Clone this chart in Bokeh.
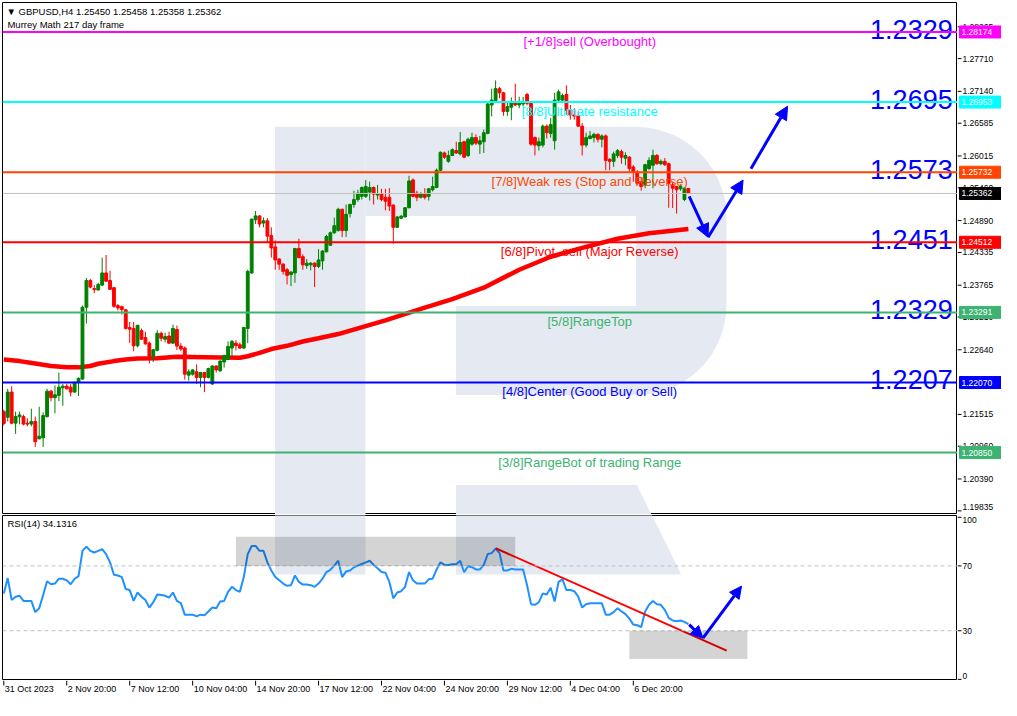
import math
from bokeh.plotting import figure
from bokeh.models import (ColumnDataSource, Span, Label, Arrow, NormalHead,
                          Range1d, BoxAnnotation)
from bokeh.layouts import column, row
from bokeh.embed import file_html
from bokeh.resources import INLINE
from bokeh.core.properties import value

# ---------------- data (GBPUSD H4) ----------------
open_ = [1.21563, 1.21465, 1.21903, 1.21363, 1.21472, 1.21477, 1.21363, 1.21346, 1.21392, 1.21090,
         1.21107, 1.21477, 1.21920, 1.21806, 1.21847, 1.21977, 1.22006, 1.21989, 1.21903, 1.22074,
         1.22130, 1.23381, 1.23846, 1.23705, 1.23681, 1.23766, 1.23978, 1.23846, 1.23722, 1.23408,
         1.23391, 1.23335, 1.23028, 1.23011, 1.22710, 1.22972, 1.22853, 1.22756, 1.22517, 1.22631,
         1.22926, 1.22824, 1.22880, 1.22756, 1.22994, 1.22705, 1.22670, 1.22198, 1.22215, 1.22256,
         1.22159, 1.22244, 1.22159, 1.22045, 1.22358, 1.22273, 1.22427, 1.22471, 1.22670, 1.22756,
         1.22727, 1.22670, 1.23011, 1.23978, 1.24903, 1.24971, 1.24847, 1.24886, 1.24630, 1.24431,
         1.24221, 1.24131, 1.24034, 1.23949, 1.23978, 1.24404, 1.24261, 1.24107, 1.24119, 1.24148,
         1.24090, 1.24187, 1.24346, 1.24460, 1.24677, 1.24716, 1.25086, 1.24716, 1.25011, 1.25171,
         1.25256, 1.25312, 1.25312, 1.25386, 1.25466, 1.25334, 1.25351, 1.25295, 1.25295, 1.25159,
         1.24772, 1.24932, 1.24954, 1.25113, 1.25597, 1.25368, 1.25295, 1.25351, 1.25312, 1.25426,
         1.25466, 1.25767, 1.26067, 1.25921, 1.26023, 1.26108, 1.26050, 1.26262, 1.26023, 1.26221,
         1.26335, 1.26221, 1.26262, 1.26408, 1.26902, 1.26977, 1.27187, 1.27114, 1.26790, 1.26863,
         1.26943, 1.26902, 1.26919, 1.27085, 1.26931, 1.26335, 1.26193, 1.26204, 1.26534, 1.26408,
         1.26279, 1.26988, 1.26988, 1.27085, 1.26812, 1.26727, 1.26710, 1.26534, 1.26204, 1.26318,
         1.26335, 1.26391, 1.26306, 1.26364, 1.25955, 1.25921, 1.26023, 1.26091, 1.25977, 1.25994,
         1.25824, 1.25738, 1.25568, 1.25512, 1.25795, 1.25853, 1.26023, 1.25880, 1.25921, 1.25880,
         1.25512, 1.25483, 1.25443, 1.25256, 1.25450]
high_ = [1.21597, 1.21960, 1.22006, 1.21563, 1.21563, 1.21511, 1.21448, 1.21614, 1.21477, 1.21648,
         1.21551, 1.21960, 1.21943, 1.22018, 1.22244, 1.22045, 1.22045, 1.22045, 1.22086, 1.22159,
         1.23408, 1.23892, 1.23875, 1.23766, 1.23807, 1.24244, 1.24290, 1.24017, 1.23732, 1.23437,
         1.23408, 1.23352, 1.23125, 1.23125, 1.23067, 1.23011, 1.22955, 1.22785, 1.22653, 1.22982,
         1.22955, 1.22938, 1.22955, 1.23079, 1.23062, 1.22756, 1.22699, 1.22300, 1.22300, 1.22386,
         1.22256, 1.22244, 1.22330, 1.22369, 1.22369, 1.22454, 1.22556, 1.22785, 1.22812, 1.22812,
         1.22768, 1.23040, 1.24034, 1.24925, 1.25057, 1.24983, 1.24942, 1.24932, 1.24772, 1.24545,
         1.24233, 1.24148, 1.24063, 1.24005, 1.24414, 1.24574, 1.24302, 1.24221, 1.24165, 1.24165,
         1.24392, 1.24375, 1.24642, 1.24699, 1.24942, 1.25113, 1.25096, 1.25171, 1.25181, 1.25409,
         1.25426, 1.25483, 1.25597, 1.25568, 1.25483, 1.25512, 1.25443, 1.25443, 1.25454, 1.25171,
         1.24971, 1.24988, 1.25125, 1.25670, 1.25624, 1.25409, 1.25386, 1.25454, 1.25454, 1.25653,
         1.25795, 1.26091, 1.26091, 1.26108, 1.26147, 1.26262, 1.26432, 1.26279, 1.26335, 1.26420,
         1.26391, 1.26364, 1.26476, 1.26943, 1.27187, 1.27329, 1.27216, 1.27131, 1.26943, 1.27034,
         1.27272, 1.27046, 1.27046, 1.27114, 1.26948, 1.26352, 1.26335, 1.26562, 1.26562, 1.26676,
         1.27114, 1.27170, 1.27102, 1.27243, 1.26902, 1.26846, 1.26790, 1.26591, 1.26420, 1.26449,
         1.26420, 1.26408, 1.26391, 1.26391, 1.25977, 1.26091, 1.26135, 1.26125, 1.26079, 1.26011,
         1.25853, 1.25767, 1.25636, 1.25880, 1.25994, 1.26125, 1.26050, 1.25955, 1.25977, 1.25897,
         1.25568, 1.25483, 1.25522, 1.25466, 1.25458]
low_ = [1.21324, 1.21392, 1.21341, 1.21176, 1.21341, 1.21324, 1.21307, 1.21307, 1.20949, 1.21080,
        1.20949, 1.21460, 1.21745, 1.21534, 1.21745, 1.21665, 1.21949, 1.21830, 1.21892, 1.21835,
        1.22120, 1.23097, 1.23710, 1.23625, 1.23676, 1.23749, 1.23824, 1.23681, 1.23369, 1.23323,
        1.23255, 1.22994, 1.22756, 1.22614, 1.22682, 1.22812, 1.22727, 1.22403, 1.22427, 1.22614,
        1.22785, 1.22768, 1.22744, 1.22744, 1.22636, 1.22619, 1.22120, 1.22103, 1.22188, 1.22045,
        1.21989, 1.21903, 1.22142, 1.22028, 1.22244, 1.22256, 1.22330, 1.22461, 1.22529, 1.22631,
        1.22653, 1.22653, 1.22756, 1.23961, 1.24830, 1.24772, 1.24772, 1.24516, 1.24244, 1.24034,
        1.24034, 1.23949, 1.23778, 1.23749, 1.23807, 1.24233, 1.24034, 1.24051, 1.24022, 1.23732,
        1.24063, 1.24034, 1.24336, 1.24448, 1.24659, 1.24699, 1.24602, 1.24602, 1.24942, 1.25113,
        1.25215, 1.25256, 1.25283, 1.25239, 1.25171, 1.25256, 1.25227, 1.25068, 1.25057, 1.24489,
        1.24762, 1.24915, 1.24942, 1.25103, 1.25295, 1.25227, 1.25273, 1.25256, 1.25239, 1.25397,
        1.25454, 1.25750, 1.25965, 1.25897, 1.26011, 1.26050, 1.26023, 1.25977, 1.25994, 1.26193,
        1.26204, 1.26050, 1.26067, 1.26391, 1.26705, 1.26960, 1.27017, 1.26715, 1.26715, 1.26637,
        1.26885, 1.26846, 1.26875, 1.26897, 1.26193, 1.26023, 1.26108, 1.26164, 1.26318, 1.26335,
        1.26125, 1.26960, 1.26966, 1.26727, 1.26647, 1.26647, 1.26522, 1.26023, 1.26164, 1.26306,
        1.26250, 1.26250, 1.26164, 1.25767, 1.25767, 1.25824, 1.25977, 1.25880, 1.25853, 1.25738,
        1.25568, 1.25512, 1.25409, 1.25454, 1.25767, 1.25454, 1.25863, 1.25853, 1.25841, 1.25113,
        1.25108, 1.25011, 1.25409, 1.25227, 1.25358]
close_ = [1.21358, 1.21903, 1.21363, 1.21477, 1.21506, 1.21346, 1.21346, 1.21392, 1.21039, 1.21136,
          1.21494, 1.21920, 1.21806, 1.21857, 1.21989, 1.22006, 1.21960, 1.21903, 1.22074, 1.22142,
          1.23381, 1.23846, 1.23732, 1.23688, 1.23778, 1.23978, 1.23835, 1.23693, 1.23398, 1.23369,
          1.23340, 1.23011, 1.22999, 1.22710, 1.23067, 1.22824, 1.22744, 1.22500, 1.22641, 1.22926,
          1.22841, 1.22870, 1.22756, 1.23011, 1.22705, 1.22653, 1.22215, 1.22256, 1.22290, 1.22159,
          1.22244, 1.22159, 1.22312, 1.22358, 1.22290, 1.22444, 1.22539, 1.22699, 1.22785, 1.22710,
          1.22670, 1.23028, 1.24005, 1.24915, 1.24971, 1.24830, 1.24886, 1.24619, 1.24414, 1.24204,
          1.24131, 1.24005, 1.23937, 1.23995, 1.24404, 1.24244, 1.24119, 1.24148, 1.24148, 1.24090,
          1.24204, 1.24358, 1.24613, 1.24677, 1.24801, 1.25086, 1.24716, 1.25000, 1.25171, 1.25256,
          1.25368, 1.25466, 1.25483, 1.25466, 1.25351, 1.25351, 1.25256, 1.25227, 1.25142, 1.24772,
          1.24954, 1.24966, 1.25113, 1.25580, 1.25312, 1.25295, 1.25351, 1.25295, 1.25443, 1.25483,
          1.25767, 1.26079, 1.25994, 1.26023, 1.26125, 1.26067, 1.26250, 1.25994, 1.26306, 1.26335,
          1.26238, 1.26279, 1.26420, 1.26919, 1.26988, 1.27187, 1.27114, 1.26790, 1.26875, 1.26943,
          1.26902, 1.26943, 1.26943, 1.26931, 1.26221, 1.26204, 1.26262, 1.26534, 1.26420, 1.26562,
          1.26988, 1.27131, 1.27068, 1.26812, 1.26727, 1.26710, 1.26534, 1.26204, 1.26335, 1.26364,
          1.26391, 1.26306, 1.26364, 1.25938, 1.25921, 1.26050, 1.26108, 1.25994, 1.26023, 1.25795,
          1.25738, 1.25539, 1.25483, 1.25863, 1.25938, 1.26023, 1.25880, 1.25921, 1.25863, 1.25539,
          1.25454, 1.25426, 1.25483, 1.25454, 1.25362]
rsi14 = [53.0, 62.5, 49.0, 51.0, 51.6, 48.4, 48.4, 48.4, 41.5, 43.9,
         52.0, 60.5, 58.7, 59.1, 62.1, 62.1, 61.1, 58.7, 62.1, 63.7,
         79.3, 81.9, 79.3, 78.3, 79.3, 80.3, 77.3, 72.2, 64.5, 64.1,
         63.1, 55.7, 55.1, 48.4, 53.6, 51.0, 48.9, 44.3, 47.6, 52.4,
         52.0, 51.6, 50.4, 53.6, 48.4, 47.0, 39.9, 39.9, 39.9, 38.9,
         39.9, 39.5, 41.9, 44.3, 43.9, 48.0, 48.4, 54.0, 57.1, 55.1,
         54.0, 63.1, 77.3, 82.3, 82.3, 79.3, 79.3, 72.2, 67.2, 63.1,
         61.1, 59.1, 57.7, 58.1, 64.1, 60.1, 58.5, 58.5, 58.1, 57.1,
         59.1, 62.1, 66.2, 67.6, 70.2, 73.2, 63.1, 66.6, 67.2, 69.2,
         70.2, 71.2, 72.2, 73.2, 70.6, 68.6, 66.2, 65.8, 60.1, 50.0,
         53.6, 54.4, 57.1, 66.2, 61.1, 59.1, 59.1, 59.1, 61.7, 62.1,
         67.8, 72.2, 70.6, 70.6, 71.0, 71.0, 73.2, 66.2, 69.8, 69.2,
         67.8, 67.8, 70.6, 77.3, 77.9, 80.7, 77.9, 67.2, 67.2, 68.2,
         67.8, 67.8, 67.8, 58.0, 46.4, 46.0, 47.6, 53.0, 52.4, 56.5,
         48.0, 60.1, 61.7, 55.1, 55.1, 54.4, 51.0, 44.3, 46.4, 47.0,
         47.0, 47.0, 47.0, 39.9, 39.9, 41.5, 43.9, 41.9, 40.3, 37.5,
         33.8, 33.4, 32.2, 41.9, 46.0, 48.4, 46.4, 46.0, 42.9, 37.9,
         36.3, 35.9, 36.3, 35.5, 34.1316]
ma_bar = [0, 4, 8, 12, 16, 19, 22, 24, 28, 31, 34, 39, 44, 51, 60, 62, 65, 68, 72, 76,
          80, 85, 97, 106, 114, 122, 131, 139, 147, 156, 164, 174]
ma_val = [1.22471, 1.22443, 1.22402, 1.22358, 1.22334, 1.22334, 1.22358, 1.22397, 1.22443, 1.22471,
          1.22488, 1.22494, 1.22517, 1.22511, 1.22500, 1.22528, 1.22585, 1.22653, 1.22709, 1.22784,
          1.22841, 1.22914, 1.23153, 1.23352, 1.23522, 1.23722, 1.24034, 1.24260, 1.24414, 1.24574,
          1.24669, 1.24745]

murrey_levels = [1.28174, 1.26953, 1.25732, 1.24512, 1.23291, 1.22070, 1.20850]
murrey_colors = ["#ff00ff", "#00ffff", "#ff4500", "#ff0000", "#3cb371", "#0000ff", "#3cb371"]
murrey_texts = ["[+1/8]sell (Overbought)", "[8/8]Ultimate resistance",
                "[7/8]Weak res (Stop and Reverse)", "[6/8]Pivot, sell (Major Reverse)",
                "[5/8]RangeTop", "[4/8]Center (Good Buy or Sell)",
                "[3/8]RangeBot of trading Range"]
murrey_big = ["1.2329", "1.2695", "1.2573", "1.2451", "1.2329", "1.2207", ""]
last_price = 1.25362

price_ticks = [1.19835, 1.20390, 1.20960, 1.21515, 1.22640, 1.23210, 1.23765, 1.24335,
               1.24890, 1.25460, 1.26015, 1.26585, 1.27140, 1.27710, 1.28265]
time_tick_bars = [0, 16, 32, 48, 64, 80, 96, 112, 128, 144, 160]
time_tick_labels = ["31 Oct 2023", "2 Nov 20:00", "7 Nov 12:00", "10 Nov 04:00", "14 Nov 20:00",
                    "17 Nov 12:00", "22 Nov 04:00", "24 Nov 20:00", "29 Nov 12:00",
                    "4 Dec 04:00", "6 Dec 20:00"]
rsi_ticks = [0, 30, 70, 100]
rsi_levels = [30, 70]

# drawn analysis objects
rsi_zone_left = [59, 159]
rsi_zone_right = [130, 189]
rsi_zone_bottom = [70, 12.6]
rsi_zone_top = [88, 30]
rsi_trend_bar = [125, 183.75]
rsi_trend_val = [80.9, 17.7]
fc_bar = [174.2, 179.0, 187.9]
fc_price = [1.25312, 1.24601, 1.25596]
fc2_bar = [189.9, 199.2]
fc2_price = [1.25794, 1.26880]
rsi_fc_bar = [174.2, 177.7, 187.5]
rsi_fc_val = [33.8, 25.4, 57.5]

# ---------------- layout helpers (reference pixel -> data) ----------------
FONT = "Liberation Sans"
X0, X1 = -0.33, 242.4
P0, P1 = 1.19772, 1.28687
R0, R1 = -0.7, 101.1
FW = 955          # width of the chart frames
SW = 44           # width of the price-scale strip
MAIN_H, RSI_H, TIME_H = 512, 165, 20


def px_bar(x):
    return (x - 3.3) / 4.0


def px_price(y):
    return 1.287207 - y / 5867.0


def px_rsi(y):
    return 70 - (y - 578.3) / 1.65


def arc(cx, cy, rad, a0, a1, n=14):
    pts = []
    for k in range(n + 1):
        a = math.radians(a0 + (a1 - a0) * k / n)
        pts.append((cx + rad * math.cos(a), cy - rad * math.sin(a)))
    return pts


wm_shapes = [
    [(279, 129), (371, 129), (371, 587), (279, 587)],
    [(371, 129)] + arc(646, 221, 92, 90, 0) + arc(646, 311, 92, 0, -90)
    + [(463, 403), (463, 312), (646, 312), (646, 220), (371, 220)],
    [(463, 495), (647, 495), (692, 587), (463, 587)],
]
WM = "#e5eaf2"


def make_fig(fw, fh, xr, yr, top=0, bottom=0, left=0):
    f = figure(frame_width=fw, frame_height=fh, x_range=xr, y_range=yr,
               output_backend="svg", toolbar_location=None, x_axis_location=None,
               y_axis_location=None, min_border_left=left, min_border_right=0,
               min_border_top=top, min_border_bottom=bottom)
    f.grid.visible = False
    f.outline_line_color = None
    f.background_fill_color = "white"
    f.border_fill_color = "white"
    return f


xr = Range1d(X0, X1)
yr_main = Range1d(P0, P1)
yr_rsi = Range1d(R0, R1)

# ---------------- main price panel ----------------
p = make_fig(FW, MAIN_H, xr, yr_main, top=2, left=2)
p.outline_line_color = "black"

p.patches(xs=[[px_bar(a) for a, b in s] for s in wm_shapes],
          ys=[[px_price(b) for a, b in s] for s in wm_shapes],
          fill_color=WM, line_color=None)

for lv, col in zip(murrey_levels, murrey_colors):
    p.add_layout(Span(location=lv, dimension="width", line_color=col, line_width=2))
p.add_layout(Span(location=last_price, dimension="width", line_color="#c0c0c0", line_width=1))

p.line(ma_bar, ma_val, line_color="#ff0000", line_width=4.5)

idx = list(range(len(close_)))
ccol = ["#008000" if c >= o else "#ff0000" for o, c in zip(open_, close_)]
src = ColumnDataSource(dict(x=idx, o=open_, h=high_, l=low_, c=close_,
                            top=[max(o, c) for o, c in zip(open_, close_)],
                            bot=[min(o, c) for o, c in zip(open_, close_)], col=ccol))
p.segment(x0="x", y0="l", x1="x", y1="h", line_color="col", line_width=1, source=src)
p.vbar(x="x", width=0.72, top="top", bottom="bot", fill_color="col", line_color="col",
       line_width=1, source=src)

mid_x = px_bar(599)
p.text(x=[mid_x] * len(murrey_texts), y=[lv - 2.0 / 5867 for lv in murrey_levels],
       text=murrey_texts, text_color=murrey_colors, text_font=value(FONT),
       text_font_size="13px", text_align="center", text_baseline="top")
big_src = [(lv, t) for lv, t in zip(murrey_levels, murrey_big) if t]
p.text(x=[px_bar(968)] * len(big_src), y=[lv + 2.7 / 5867 for lv, t in big_src],
       text=[t for lv, t in big_src], text_color="#0000ff", text_font=value(FONT),
       text_font_size="27px", text_align="right", text_baseline="alphabetic")

for i in range(len(fc_bar) - 1):
    p.add_layout(Arrow(end=NormalHead(size=13, fill_color="#0000ff", line_color="#0000ff"),
                       x_start=fc_bar[i], y_start=fc_price[i], x_end=fc_bar[i + 1],
                       y_end=fc_price[i + 1], line_color="#0000ff", line_width=3))
p.add_layout(Arrow(end=NormalHead(size=13, fill_color="#0000ff", line_color="#0000ff"),
                   x_start=fc2_bar[0], y_start=fc2_price[0], x_end=fc2_bar[1],
                   y_end=fc2_price[1], line_color="#0000ff", line_width=3))

p.add_layout(Label(x=px_bar(6), y=px_price(6),
                   text="\u25bc GBPUSD,H4  1.25450 1.25458 1.25358 1.25362",
                   text_font=FONT, text_font_size="9.5px", text_color="black",
                   text_baseline="top"))
p.add_layout(Label(x=px_bar(7), y=px_price(18.5), text="Murrey Math 217 day frame",
                   text_font=FONT, text_font_size="9.5px", text_color="black",
                   text_baseline="top"))

# ---------------- price scale strip (right of main panel) ----------------
pt = make_fig(SW, MAIN_H, Range1d(0, SW), yr_main, top=2)
nt = len(price_ticks)
pt.segment(x0=[0] * nt, y0=price_ticks, x1=[4] * nt, y1=price_ticks, line_color="black")
pt.text(x=[5] * (nt - 1), y=price_ticks[1:], text=["%.5f" % t for t in price_ticks[1:]],
        text_font=value(FONT), text_font_size="8.5px", text_color="black",
        text_align="left", text_baseline="middle")
pt.text(x=[5], y=price_ticks[:1], text=["%.5f" % price_ticks[0]],
        text_font=value(FONT), text_font_size="8.5px", text_color="black",
        text_align="left", text_baseline="bottom", y_offset=-1)
tag_levels = murrey_levels + [last_price]
tag_colors = murrey_colors + ["#000000"]
ntag = len(tag_levels)
pt.rect(x=[23] * ntag, y=tag_levels, width=[42] * ntag, height=[12] * ntag,
        height_units="screen", fill_color=tag_colors, line_color=tag_colors)
pt.text(x=[4] * ntag, y=tag_levels, text=["%.5f" % t for t in tag_levels],
        text_font=value(FONT), text_font_size="8.5px", text_color="white",
        text_align="left", text_baseline="middle")

# ---------------- RSI panel ----------------
r = make_fig(FW, RSI_H, xr, yr_rsi, top=1, left=2)
r.outline_line_color = "black"
r.patches(xs=[[px_bar(a) for a, b in s] for s in wm_shapes],
          ys=[[px_rsi(b) for a, b in s] for s in wm_shapes],
          fill_color=WM, line_color=None)
for lv in rsi_levels:
    r.add_layout(Span(location=lv, dimension="width", line_color="#c0c0c0",
                      line_width=1, line_dash="4 3"))
for l0, r0, b0, t0 in zip(rsi_zone_left, rsi_zone_right, rsi_zone_bottom, rsi_zone_top):
    r.add_layout(BoxAnnotation(left=l0, right=r0, bottom=b0, top=t0, fill_color="black",
                               fill_alpha=0.17, line_alpha=0))
r.line(idx, rsi14, line_color="#1e90ff", line_width=2)
r.line(rsi_trend_bar, rsi_trend_val, line_color="#ff0000", line_width=2)
for i in range(len(rsi_fc_bar) - 1):
    r.add_layout(Arrow(end=NormalHead(size=12, fill_color="#0000ff", line_color="#0000ff"),
                       x_start=rsi_fc_bar[i], y_start=rsi_fc_val[i], x_end=rsi_fc_bar[i + 1],
                       y_end=rsi_fc_val[i + 1], line_color="#0000ff", line_width=3))
r.add_layout(Label(x=px_bar(7), y=px_rsi(529.5), text="RSI(14) 34.1316", text_font=FONT,
                   text_font_size="9.5px", text_color="black", text_baseline="top"))

# RSI scale strip
rt = make_fig(SW, RSI_H, Range1d(0, SW), yr_rsi, top=1)
nr = len(rsi_ticks)
rt.segment(x0=[0] * nr, y0=rsi_ticks, x1=[4] * nr, y1=rsi_ticks, line_color="black")
rt.text(x=[5, 5], y=[30, 70], text=["30", "70"], text_font=value(FONT),
        text_font_size="8.5px", text_color="black", text_align="left", text_baseline="middle")
rt.text(x=[5], y=[px_rsi(528.3)], text=["100"], text_font=value(FONT),
        text_font_size="8.5px", text_color="black", text_align="left", text_baseline="top")
rt.text(x=[5], y=[px_rsi(693.0)], text=["0"], text_font=value(FONT),
        text_font_size="8.5px", text_color="black", text_align="left", text_baseline="bottom")

# ---------------- time scale strip ----------------
ts = make_fig(FW, TIME_H, xr, Range1d(0, TIME_H), left=2)
ntt = len(time_tick_bars)
ts.segment(x0=time_tick_bars, y0=[TIME_H] * ntt, x1=time_tick_bars, y1=[TIME_H - 5] * ntt,
           line_color="black")
ts.text(x=time_tick_bars, y=[TIME_H - 3.5] * ntt, text=time_tick_labels,
        text_font=value(FONT), text_font_size="9px", text_color="black",
        text_align="left", text_baseline="top", x_offset=1)

layout = row(column(p, r, ts, spacing=0), column(pt, rt, spacing=0), spacing=0)
open("out.html", "w").write(file_html(layout, INLINE))
